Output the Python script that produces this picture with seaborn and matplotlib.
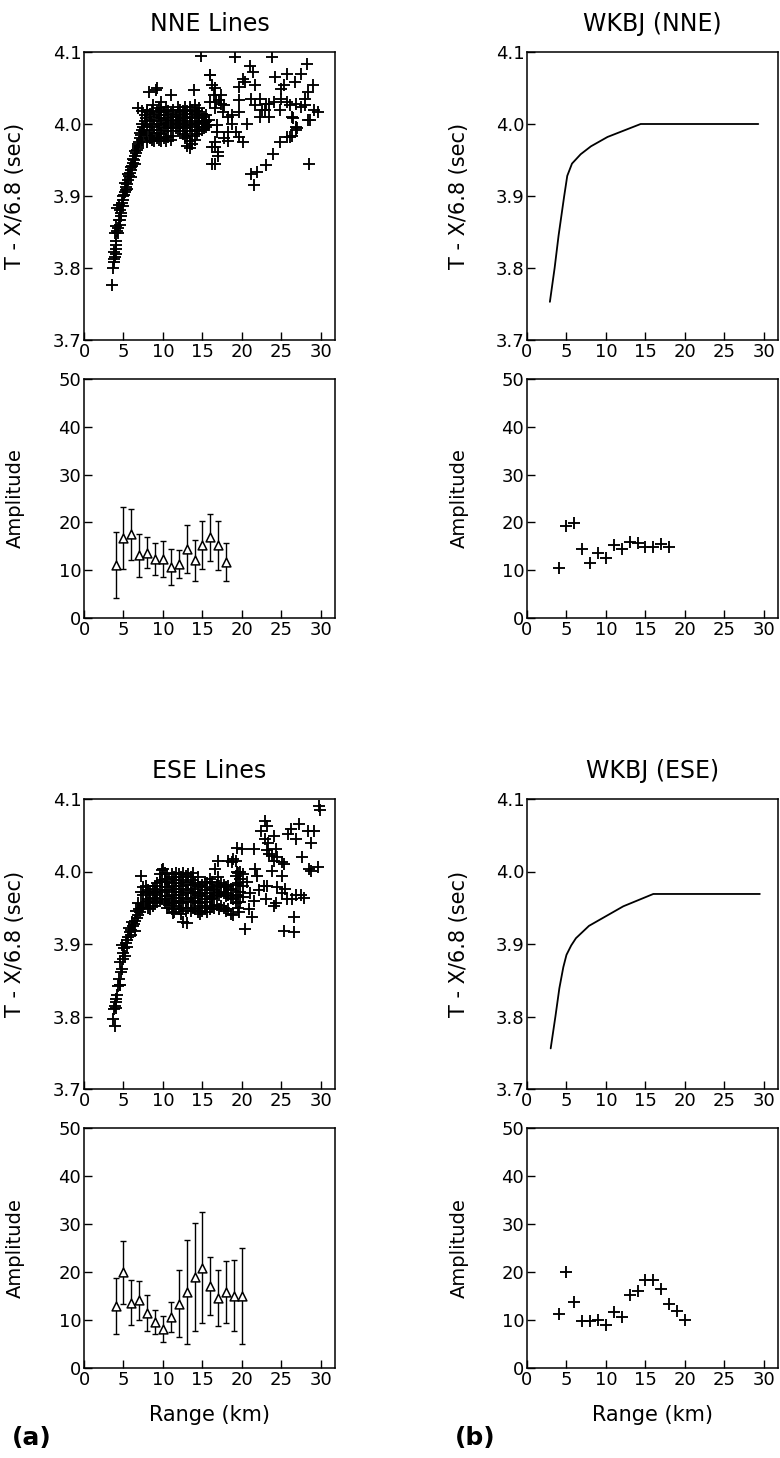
import matplotlib
matplotlib.use("Agg")
import matplotlib.pyplot as plt
import seaborn as sns
import pandas as pd

# ---------------- data ----------------
x_ticks = [0, 5, 10, 15, 20, 25, 30]
x_tick_labels = ["0", "5", "10", "15", "20", "25", "30"]
t_ticks = [3.7, 3.8, 3.9, 4.0, 4.1]
t_tick_labels = ["3.7", "3.8", "3.9", "4.0", "4.1"]
a_ticks = [0, 10, 20, 30, 40, 50]
a_tick_labels = ["0", "10", "20", "30", "40", "50"]

titles = ["NNE Lines", "WKBJ (NNE)", "ESE Lines", "WKBJ (ESE)"]
t_label = "T - X/6.8 (sec)"
a_label = "Amplitude"
range_label = "Range (km)"

# NNE observed travel times
nne_rise_x = [3.6, 3.7, 3.8, 3.9, 3.8, 4.0, 4.1, 3.9, 4.0, 4.2,
              4.1, 4.3, 4.4, 4.2, 4.5, 4.6, 4.4, 4.7, 4.8, 4.6,
              4.9, 5.0, 5.1, 5.2, 5.3, 5.2, 5.4, 5.5, 5.6, 5.7,
              5.8, 5.9, 6.0, 6.1, 6.2, 6.3, 6.4, 6.5, 6.6, 6.7,
              6.8, 6.9, 7.0, 7.1, 7.2, 7.3, 7.4, 7.5, 7.6, 7.7,
              3.8, 4.0, 4.3, 4.7, 5.0, 5.3, 5.6, 5.9, 6.2, 6.5,
              6.8, 7.1, 7.4, 7.7, 8.0]
nne_rise_y = [3.776, 3.800, 3.808, 3.815, 3.822, 3.826, 3.832, 3.848, 3.838, 3.852,
              3.858, 3.848, 3.866, 3.884, 3.880, 3.866, 3.888, 3.876, 3.890, 3.860,
              3.886, 3.895, 3.902, 3.906, 3.912, 3.918, 3.910, 3.916, 3.922, 3.928,
              3.932, 3.926, 3.936, 3.942, 3.946, 3.950, 3.944, 3.956, 3.960, 3.964,
              3.966, 3.972, 3.975, 3.980, 3.985, 3.978, 3.992, 3.996, 3.990, 4.004,
              3.812, 3.820, 3.856, 3.872, 3.900, 3.908, 3.930, 3.940, 3.952, 3.962,
              3.970, 3.988, 4.000, 4.012, 4.016]

nne_mid_cols_x = [7.8, 8.0, 8.3, 8.6, 8.9, 9.2, 9.5, 9.8, 10.1, 10.4,
                  10.7, 11.0, 11.3, 11.6, 11.9, 12.2, 12.5, 12.8, 13.1, 13.4,
                  13.7, 14.0, 14.3, 14.6, 14.9, 15.2, 15.5, 15.8]
nne_mid_cols_y = [
    [3.985, 4.008], [3.975, 3.998, 4.020], [3.980, 3.992, 4.006, 4.014],
    [3.978, 3.988, 4.000, 4.018], [3.976, 3.984, 3.996, 4.010],
    [3.980, 3.992, 4.004, 4.016], [3.978, 3.988, 4.000, 4.012, 4.022],
    [3.976, 3.986, 3.998, 4.008, 4.020], [3.980, 3.994, 4.006, 4.016],
    [3.976, 3.990, 4.002, 4.012, 4.024], [3.982, 3.996, 4.008, 4.018],
    [3.978, 3.994, 4.004, 4.014], [3.984, 3.998, 4.010, 4.020],
    [3.994, 4.002, 4.012], [3.996, 4.006, 4.016, 4.024],
    [3.990, 4.000, 4.010, 4.020], [3.986, 3.998, 4.008, 4.018],
    [3.980, 3.994, 4.004, 4.014, 4.024], [3.970, 3.984, 3.996, 4.008, 4.018],
    [3.966, 3.976, 3.990, 4.002, 4.014, 4.024], [3.972, 3.984, 3.998, 4.010, 4.020],
    [3.978, 3.992, 4.004, 4.016, 4.026], [3.986, 3.996, 4.008, 4.018],
    [3.990, 4.000, 4.012, 4.022], [3.992, 4.004, 4.014],
    [3.994, 4.002, 4.010], [3.996, 4.004, 4.012], [3.998, 4.006]]

nne_out_x = [6.8, 8.2, 9.1, 9.3, 9.7, 11.0, 13.9, 14.8, 7.4, 8.8]
nne_out_y = [4.022, 4.044, 4.047, 4.050, 4.030, 4.040, 4.047, 4.095, 4.018, 4.026]

nne_far_x = [19.1, 23.8, 28.2, 21.0, 21.4, 15.9, 24.2, 25.7, 27.5, 20.2,
             20.4, 21.7, 26.7, 25.4, 25.0, 19.7, 29.0, 28.4, 28.0, 16.6,
             16.5, 16.7, 16.6, 17.4, 17.3, 17.8, 19.6, 21.2, 22.3, 23.1,
             23.5, 24.1, 25.0, 25.7, 21.7, 22.9, 22.5, 24.8, 26.1, 26.9,
             27.5, 28.0, 29.2, 29.6, 19.6, 18.7, 18.3, 22.3, 23.4, 26.4,
             28.6, 15.7, 15.3, 16.9, 18.7, 20.6, 26.9, 16.9, 18.3, 19.3,
             19.7, 17.8, 18.3, 20.2, 25.7, 26.3, 24.8, 16.6, 16.6, 17.0,
             17.0, 23.9, 23.0, 28.5, 16.6, 21.2, 21.9, 21.6, 16.0, 16.2,
             16.0, 16.2, 16.2, 26.1, 26.9, 27.0, 28.4, 26.5, 17.1, 17.6]
nne_far_y = [4.093, 4.093, 4.084, 4.081, 4.072, 4.068, 4.065, 4.070, 4.070, 4.063,
             4.058, 4.054, 4.058, 4.054, 4.049, 4.051, 4.054, 4.044, 4.035, 4.050,
             4.040, 4.030, 4.022, 4.040, 4.028, 4.026, 4.033, 4.035, 4.035, 4.028,
             4.028, 4.030, 4.035, 4.030, 4.026, 4.019, 4.019, 4.019, 4.026, 4.028,
             4.024, 4.026, 4.019, 4.017, 4.017, 4.012, 4.010, 4.010, 4.010, 4.010,
             4.005, 3.998, 4.003, 3.998, 4.000, 4.000, 3.996, 3.989, 3.989, 3.989,
             3.982, 3.980, 3.977, 3.975, 3.982, 3.984, 3.975, 3.975, 3.968, 3.961,
             3.956, 3.959, 3.943, 3.945, 3.945, 3.931, 3.933, 3.915, 4.068, 4.054,
             4.030, 3.968, 3.945, 3.982, 3.992, 3.995, 4.006, 4.008, 4.034, 4.016]

# ESE observed travel times
ese_rise_x = [3.9, 3.7, 3.8, 3.9, 4.0, 4.1, 4.0, 4.3, 4.5, 4.6,
              4.7, 4.8, 4.6, 4.9, 5.0, 4.8, 5.1, 5.3, 5.4, 5.6,
              5.8, 6.0, 6.2, 6.3, 6.5, 6.7, 6.9, 7.1, 7.3, 5.2,
              5.5, 5.9, 6.1, 6.4, 6.8, 7.0, 4.4, 4.2, 5.7, 6.6]
ese_rise_y = [3.787, 3.797, 3.810, 3.815, 3.820, 3.824, 3.812, 3.842, 3.844, 3.843,
              3.861, 3.866, 3.875, 3.880, 3.888, 3.898, 3.894, 3.902, 3.905, 3.910,
              3.916, 3.920, 3.925, 3.928, 3.932, 3.936, 3.940, 3.944, 3.950, 3.884,
              3.896, 3.912, 3.930, 3.918, 3.957, 3.948, 3.852, 3.830, 3.922, 3.946]

ese_mid_cols_x = [7.2, 7.5, 7.8, 8.1, 8.4, 8.7, 9.0, 9.3, 9.6, 9.9,
                  10.2, 10.5, 10.8, 11.1, 11.4, 11.7, 12.0, 12.3, 12.6, 12.9,
                  13.2, 13.5, 13.8, 14.1, 14.4, 14.7, 15.0, 15.3, 15.6, 15.9,
                  16.2, 16.5, 16.8, 17.1, 17.4, 17.7, 18.0, 18.3, 18.6, 18.9,
                  19.2, 19.5, 19.8, 20.1]
ese_mid_cols_y = [
    [3.955, 3.972, 3.994], [3.952, 3.968, 3.978], [3.958, 3.970, 3.980],
    [3.950, 3.962, 3.975], [3.948, 3.960, 3.972], [3.952, 3.964, 3.976],
    [3.956, 3.968, 3.980, 3.972], [3.958, 3.970, 3.984],
    [3.960, 3.972, 3.986, 3.996], [3.962, 3.974, 3.988, 4.002],
    [3.956, 3.966, 3.978, 3.990, 3.998], [3.950, 3.962, 3.974, 3.986, 3.996],
    [3.954, 3.966, 3.978, 3.990], [3.948, 3.960, 3.972, 3.984, 3.996],
    [3.944, 3.956, 3.968, 3.980, 3.992], [3.952, 3.964, 3.976, 3.988, 3.998],
    [3.948, 3.960, 3.972, 3.984, 3.996], [3.942, 3.956, 3.968, 3.980, 3.992],
    [3.930, 3.950, 3.964, 3.976, 3.988, 3.998], [3.946, 3.958, 3.970, 3.982, 3.994],
    [3.950, 3.962, 3.974, 3.986, 3.996], [3.946, 3.958, 3.970, 3.982, 3.992],
    [3.950, 3.964, 3.976, 3.988, 3.998], [3.948, 3.960, 3.972, 3.984],
    [3.944, 3.956, 3.968, 3.980, 3.992], [3.942, 3.952, 3.966, 3.978],
    [3.946, 3.958, 3.970, 3.982], [3.950, 3.962, 3.974, 3.986],
    [3.944, 3.958, 3.970, 3.984], [3.948, 3.962, 3.974, 3.990],
    [3.952, 3.964, 3.976, 3.986], [3.950, 3.966, 3.978],
    [3.954, 3.970, 3.982], [3.948, 3.968, 3.980],
    [3.952, 3.972, 3.984], [3.950, 3.970, 3.982],
    [3.946, 3.966, 3.978], [3.948, 3.968, 3.980],
    [3.942, 3.964, 3.976], [3.940, 3.962, 3.974],
    [3.956, 3.968, 3.982, 3.994], [3.950, 3.966, 3.984, 3.998],
    [3.958, 3.972, 3.990, 4.000], [3.965, 3.980, 3.996]]

ese_far_x = [29.8, 22.9, 23.2, 22.4, 24.1, 22.9, 23.3, 19.4, 20.0, 21.5,
             23.2, 24.3, 23.8, 23.4, 24.5, 24.1, 25.1, 25.3, 17.0, 18.3,
             19.2, 18.7, 16.6, 21.7, 21.9, 23.8, 25.1, 26.2, 25.8, 27.2,
             26.8, 28.4, 29.2, 28.7, 27.6, 28.5, 28.7, 29.6, 24.5, 25.5,
             25.1, 26.8, 27.5, 27.9, 26.4, 25.7, 24.1, 24.3, 23.0, 23.2,
             21.3, 20.4, 26.6, 25.3, 26.6, 22.8, 20.9, 19.6, 21.0, 22.2,
             20.6, 21.5, 17.0, 19.4, 29.9, 13.0, 11.3, 10.0, 18.9]
ese_far_y = [4.091, 4.070, 4.063, 4.056, 4.049, 4.045, 4.040, 4.033, 4.031, 4.031,
             4.029, 4.031, 4.022, 4.024, 4.020, 4.015, 4.013, 4.010, 4.015, 4.015,
             4.015, 4.013, 4.003, 4.003, 3.994, 4.001, 3.994, 4.059, 4.052, 4.065,
             4.045, 4.056, 4.056, 4.040, 4.020, 4.003, 4.001, 4.006, 3.978, 3.976,
             3.971, 3.967, 3.967, 3.964, 3.962, 3.962, 3.953, 3.957, 3.962, 3.980,
             3.937, 3.921, 3.937, 3.918, 3.916, 3.980, 3.948, 3.944, 3.970, 3.975,
             3.985, 3.960, 3.992, 4.000, 4.085, 3.929, 3.943, 4.003, 4.017]

# WKBJ synthetic travel-time curves
wkbj_nne_x = [2.9, 3.5, 4.0, 4.7, 5.1, 5.7, 6.8, 8.1, 10.2, 14.4, 29.3]
wkbj_nne_y = [3.753, 3.800, 3.845, 3.899, 3.928, 3.945, 3.958, 3.969, 3.982, 4.000, 4.000]
wkbj_ese_x = [3.0, 3.6, 4.1, 4.6, 5.0, 5.6, 6.2, 7.85, 12.2, 16.0, 29.5]
wkbj_ese_y = [3.756, 3.800, 3.839, 3.868, 3.885, 3.898, 3.908, 3.925, 3.952, 3.969, 3.969]

# Amplitudes (observed with error bars, WKBJ synthetic)
amp_nne_x = [4, 5, 6, 7, 8, 9, 10, 11, 12, 13, 14, 15, 16, 17, 18]
amp_nne_y = [11.0, 16.7, 17.5, 13.1, 13.7, 12.3, 12.3, 10.7, 11.3, 14.4, 12.1, 15.3, 16.9, 15.2, 11.7]
amp_nne_err = [6.9, 6.5, 5.3, 4.5, 3.3, 3.4, 3.8, 3.7, 3.0, 5.0, 4.3, 5.0, 4.9, 5.1, 3.9]
wkbj_amp_nne = [10.4, 19.3, 19.8, 14.4, 11.6, 13.7, 12.6, 15.3, 14.4, 15.8, 15.6, 14.9, 14.9, 15.4, 14.8]

amp_ese_x = [4, 5, 6, 7, 8, 9, 10, 11, 12, 13, 14, 15, 16, 17, 18, 19, 20]
amp_ese_y = [12.9, 19.9, 13.6, 14.1, 11.5, 9.6, 8.2, 10.7, 13.4, 15.9, 19.0, 20.9, 17.1, 14.6, 15.8, 15.1, 15.0]
amp_ese_err = [5.9, 6.6, 4.7, 4.0, 3.8, 2.5, 2.7, 3.1, 7.0, 10.8, 11.2, 11.5, 6.1, 5.8, 6.4, 7.4, 10.1]
wkbj_amp_ese = [11.3, 20.1, 13.8, 9.7, 9.7, 9.9, 8.9, 11.7, 10.6, 15.3, 16.1, 18.4, 18.3, 16.5, 13.4, 11.8, 9.9]


def flatten_cols(xs, ys):
    fx, fy = [], []
    for xv, col in zip(xs, ys):
        for yv in col:
            fx.append(xv)
            fy.append(yv)
    return fx, fy


nm_x, nm_y = flatten_cols(nne_mid_cols_x, nne_mid_cols_y)
em_x, em_y = flatten_cols(ese_mid_cols_x, ese_mid_cols_y)
nne_df = pd.DataFrame({"x": nne_rise_x + nm_x + nne_out_x + nne_far_x,
                       "y": nne_rise_y + nm_y + nne_out_y + nne_far_y})
ese_df = pd.DataFrame({"x": ese_rise_x + em_x + ese_far_x,
                       "y": ese_rise_y + em_y + ese_far_y})

# ---------------- style ----------------
sns.set_theme(style="ticks", rc={"axes.facecolor": "white", "figure.facecolor": "white"})
plt.rcParams["font.family"] = ["DejaVu Sans"]
plt.rcParams["text.color"] = "black"
plt.rcParams["axes.labelcolor"] = "black"

fig = plt.figure(figsize=(7.8, 14.58), dpi=100)
W, H = 780.0, 1458.0


def box(l, t, r, b):
    return fig.add_axes([l / W, 1 - b / H, (r - l) / W, (b - t) / H])


def style(ax, kind, label_x):
    ax.set_xlim(0, 31.8)
    ax.set_xticks(x_ticks)
    ax.set_xticklabels(x_tick_labels)
    if kind == "T":
        ax.set_ylim(3.7, 4.1)
        ax.set_yticks(t_ticks)
        ax.set_yticklabels(t_tick_labels)
        ax.set_ylabel(t_label, fontsize=15)
    else:
        ax.set_ylim(0, 50)
        ax.set_yticks(a_ticks)
        ax.set_yticklabels(a_tick_labels)
        ax.set_ylabel(a_label, fontsize=14)
    ax.yaxis.set_label_coords(label_x, 0.5)
    ax.set_xlabel("")
    ax.tick_params(direction="in", length=6, width=1, labelsize=13, pad=2,
                   colors="black")
    for s in ax.spines.values():
        s.set_linewidth(1.1)
        s.set_color("black")


LX = (84, 335)
RX = (527, 778)
ROWS = [(52, 340), (379, 618), (799, 1089), (1128, 1368)]
LLAB = -0.235
RLAB = -0.23

plus_kw = dict(marker="+", s=70, color="black", linewidth=1.35, legend=False)

# Column (a)
ax = box(LX[0], ROWS[0][0], LX[1], ROWS[0][1])
sns.scatterplot(data=nne_df, x="x", y="y", ax=ax, **plus_kw)
style(ax, "T", LLAB)
ax.set_title(titles[0], fontsize=17, pad=15)

ax = box(LX[0], ROWS[1][0], LX[1], ROWS[1][1])
ax.errorbar(amp_nne_x, amp_nne_y, yerr=amp_nne_err, fmt="none", ecolor="black",
            elinewidth=1.0, capsize=2.5, capthick=1.0, zorder=2)
sns.scatterplot(x=amp_nne_x, y=amp_nne_y, ax=ax, marker="^", s=40,
                facecolor="white", edgecolor="black", linewidth=1.1, zorder=3, legend=False)
style(ax, "A", LLAB)

ax = box(LX[0], ROWS[2][0], LX[1], ROWS[2][1])
sns.scatterplot(data=ese_df, x="x", y="y", ax=ax, **plus_kw)
style(ax, "T", LLAB)
ax.set_title(titles[2], fontsize=17, pad=15)

ax = box(LX[0], ROWS[3][0], LX[1], ROWS[3][1])
ax.errorbar(amp_ese_x, amp_ese_y, yerr=amp_ese_err, fmt="none", ecolor="black",
            elinewidth=1.0, capsize=2.5, capthick=1.0, zorder=2)
sns.scatterplot(x=amp_ese_x, y=amp_ese_y, ax=ax, marker="^", s=40,
                facecolor="white", edgecolor="black", linewidth=1.1, zorder=3, legend=False)
style(ax, "A", LLAB)
ax.set_xlabel(range_label, fontsize=15, labelpad=12)

# Column (b)
ax = box(RX[0], ROWS[0][0], RX[1], ROWS[0][1])
sns.lineplot(x=wkbj_nne_x, y=wkbj_nne_y, ax=ax, color="black", linewidth=1.3,
             estimator=None, sort=False)
style(ax, "T", RLAB)
ax.set_title(titles[1], fontsize=17, pad=15)

ax = box(RX[0], ROWS[1][0], RX[1], ROWS[1][1])
sns.scatterplot(x=amp_nne_x, y=wkbj_amp_nne, ax=ax, **plus_kw)
style(ax, "A", RLAB)

ax = box(RX[0], ROWS[2][0], RX[1], ROWS[2][1])
sns.lineplot(x=wkbj_ese_x, y=wkbj_ese_y, ax=ax, color="black", linewidth=1.3,
             estimator=None, sort=False)
style(ax, "T", RLAB)
ax.set_title(titles[3], fontsize=17, pad=15)

ax = box(RX[0], ROWS[3][0], RX[1], ROWS[3][1])
sns.scatterplot(x=amp_ese_x, y=wkbj_amp_ese, ax=ax, **plus_kw)
style(ax, "A", RLAB)
ax.set_xlabel(range_label, fontsize=15, labelpad=12)

fig.text(12 / W, 1 - 1438 / H, "(a)", fontsize=18, fontweight="bold", va="center", ha="left")
fig.text(455 / W, 1 - 1438 / H, "(b)", fontsize=18, fontweight="bold", va="center", ha="left")

fig.savefig("out.png", dpi=100)
